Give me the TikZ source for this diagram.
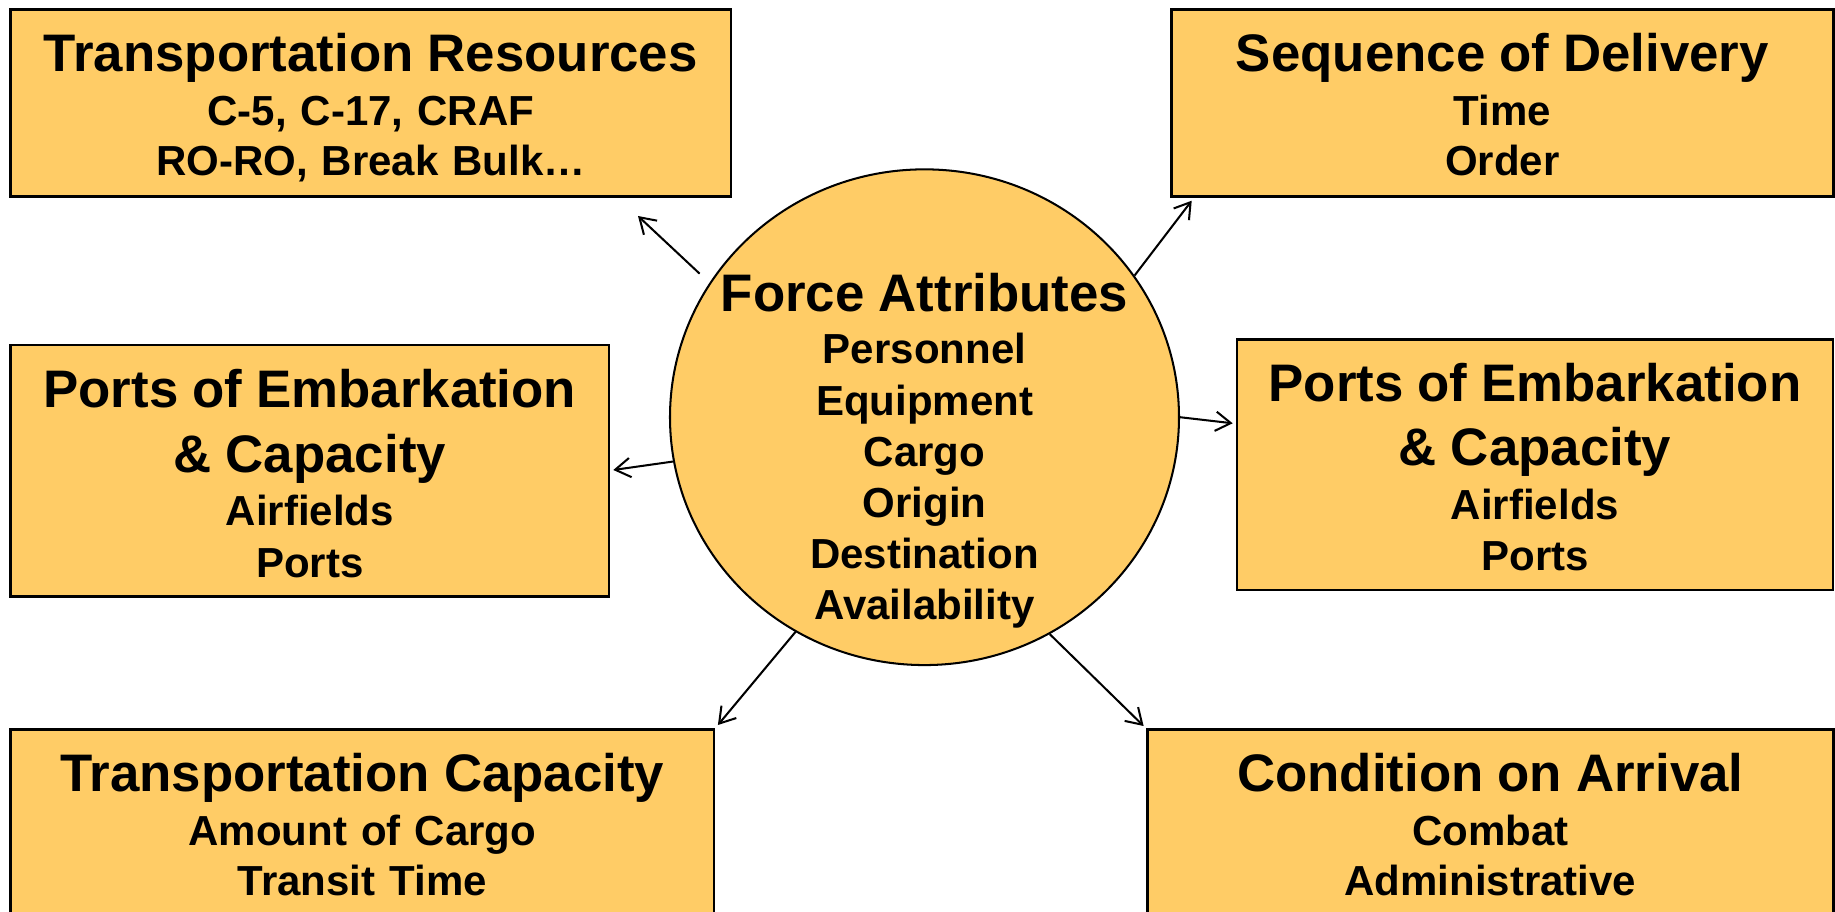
\documentclass[tikz,border=0pt]{standalone}
\usepackage{fontspec}
\setmainfont{Liberation Sans}
\usepackage{tikz}
\usetikzlibrary{shapes.geometric,arrows.meta}
\tikzset{>={Straight Barb[length=6pt,width=7.6pt]}}
\definecolor{attrfill}{RGB}{255,204,102}
\newcommand{\hdfont}{\fontsize{20.8}{25.4}\selectfont}
\tikzset{
  attrbox/.style={shape=rectangle,draw,line width=1pt,fill=attrfill,align=center,inner sep=0pt,text height=0.218in,
    font=\bfseries\fontsize{16.54}{19.7}\selectfont},
  threeline/.style={attrbox,text depth=0.559in},
  fourline/.style={attrbox,text depth=0.908in},
  link/.style={->,line width=0.8pt}
}
\begin{document}
\begin{tikzpicture}

\useasboundingbox (0,0) rectangle (10in,-4.97in);

\path (2.021in,-0.5613in) node (trRes) [threeline,minimum height=1.0213in,minimum width=3.9253in,text width=3.8in]{{\hdfont Transportation Resources}\\[1.6pt]C-5, C-17, CRAF\\RO-RO, Break Bulk\ldots};

\path (8.1869in,-0.5613in) node (seqDel) [threeline,minimum height=1.0213in,minimum width=3.6076in,text width=3.5in]{{\hdfont Sequence of Delivery}\\[1.6pt]Time\\Order};

\path (1.6886in,-2.5659in) node (poeLeft) [fourline,minimum height=1.3717in,minimum width=3.2605in,text width=3.15in]{{\hdfont Ports of Embarkation}\\[5.7pt]{\hdfont \& Capacity}\\[1.3pt]Airfields\\[0.7pt]Ports};

\path (8.3651in,-2.5322in) node (poeRight) [fourline,minimum height=1.3662in,minimum width=3.2496in,text width=3.15in]{{\hdfont Ports of Embarkation}\\[5.7pt]{\hdfont \& Capacity}\\[1.3pt]Airfields\\[0.7pt]Ports};

\path (1.9741in,-4.485in) node (trCap) [threeline,minimum height=1.0213in,minimum width=3.8338in,text width=3.7in]{{\hdfont Transportation Capacity}\\[1.6pt]Amount of Cargo\\Transit Time};

\path (8.1221in,-4.485in) node (condArr) [threeline,minimum height=1.0213in,minimum width=3.7373in,text width=3.6in]{{\hdfont Condition on Arrival}\\[1.6pt]Combat\\Administrative};

\path (5.0381in,-2.2736in) node (force) [shape=ellipse,draw,line width=0.8pt,fill=attrfill,minimum width=2.7738in,minimum height=2.7014in,inner xsep=-0.3in,inner ysep=0pt,align=center,text width=2.3in,text height=0.218in,text depth=1.368in,
  font=\bfseries\fontsize{16.54}{20.17}\selectfont]{{\hdfont Force Attributes}\\[0.4pt]Personnel\\Equipment\\Cargo\\Origin\\Destination\\Availability};

% free ends of the arrows
\coordinate (trTip) at (3.4768in,-1.1771in);
\coordinate (sdTip) at (6.4943in,-1.0937in);
\coordinate (poelTip) at (3.3422in,-2.5613in);
\coordinate (poerTip) at (6.7177in,-2.3068in);
\coordinate (tcTip) at (3.9123in,-3.951in);
\coordinate (coaTip) at (6.2322in,-3.9564in);

\draw[link,shorten <=5.3pt] (force.148.75) -- (trTip);
\draw[link] (force.34.1) -- (sdTip);
\draw[link] (force.190.7) -- (poelTip);
\draw[link] (force.0) -- (poerTip);
\draw[link] (force.239.2) -- (tcTip);
\draw[link] (force.300.5) -- (coaTip);

\end{tikzpicture}
\end{document}
